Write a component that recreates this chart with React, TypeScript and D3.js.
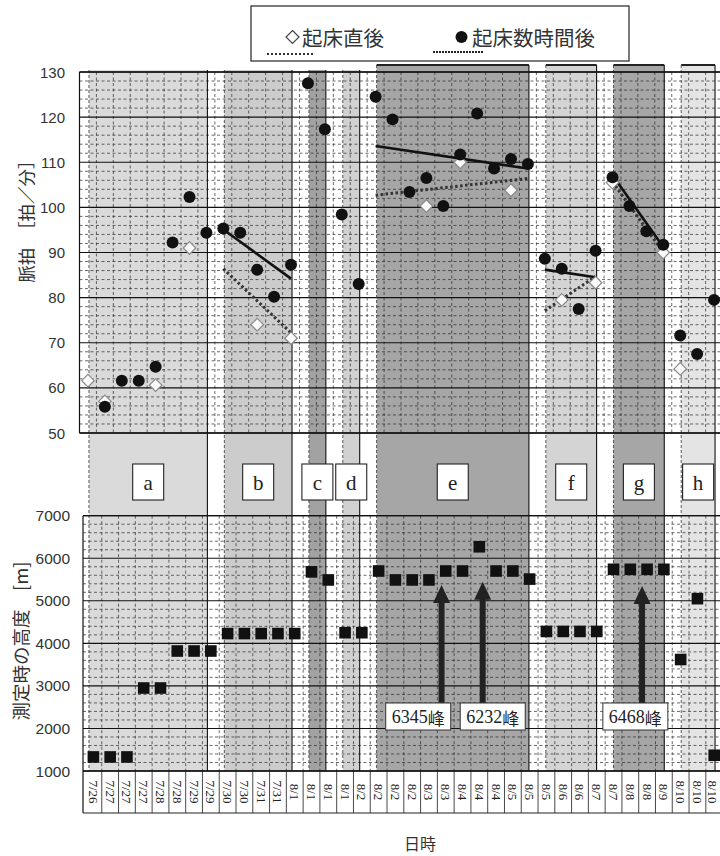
import React from "react";
import * as d3 from "d3";

const dates = ["7/26","7/27","7/27","7/27","7/28","7/28","7/29","7/29","7/30","7/30","7/31","7/31","8/1","8/1","8/1","8/1","8/2","8/2","8/2","8/2","8/3","8/3","8/4","8/4","8/4","8/5","8/5","8/5","8/6","8/6","8/7","8/7","8/8","8/8","8/9","8/10","8/10","8/10"];

// 起床数時間後 (filled circles)
const pulseAfter: (number | null)[] = [null,55.8,61.6,61.6,64.7,92.2,102.3,94.4,95.3,94.4,86.2,80.2,87.3,127.5,117.3,98.4,83,124.5,119.5,103.4,106.5,100.3,111.7,120.8,108.6,110.7,109.6,88.6,86.4,77.5,90.4,106.7,100.3,94.7,91.7,71.6,67.5,79.5];
// 起床直後 (open diamonds)
const pulseWake: (number | null)[] = [61.6,57,null,null,60.6,null,91,null,null,null,74,null,71,null,null,null,null,null,null,null,100.3,null,110,null,null,103.8,null,null,79.5,null,83.3,105.5,null,null,90,64.2,null,null];

// 測定時の高度 [m]
const altitude = [1330,1330,1330,2950,2950,3820,3820,3820,4230,4230,4230,4230,4230,5680,5490,4250,4250,5700,5490,5490,5490,5700,5700,6270,5700,5700,5510,4280,4280,4280,4280,5740,5740,5740,5740,3620,5050,1370];

const regionNames = ["a","b","c","d","e","f","g","h"];
const regionStart = [0,8,13,15,17,27,31,35];
const regionEnd = [7,12,14,16,26,30,34,37];

const trendKind = ["after","wake","after","wake","after","wake","after","wake"];
const trendFrom = [8,8,17,17,27,27,31,31];
const trendTo = [12,12,26,26,30,30,34,34];
const trendFromVal = [95.1,86.4,113.6,102.7,86.2,77.1,107.1,105.6];
const trendToVal = [84.2,72.2,108.6,106.4,84.5,84.7,91.2,90.1];

const pulseTicks = [50,60,70,80,90,100,110,120,130];
const altTicks = [1000,2000,3000,4000,5000,6000,7000];

const peakHeights = ["6345","6232","6468"];
const peakSuffix = "峰";
const peakArrowPos = [20.75,23.2,32.7];
const peakBoxPos = [19.36,23.8,32.3];
const peakTipAlt = [5370,5450,5350];
const peakBaseAlt = [2600,2600,2600];

// styles
const regionFill = ["#dadada","#cccccc","#a2a2a2","#d1d1d1","#a6a6a6","#d4d4d4","#a6a6a6","#e4e4e4"];
const regionTopLine = [false,false,false,false,true,true,true,true];

const SERIF = "'Liberation Serif', 'Times New Roman', serif";
const SANS = "'Liberation Sans', Arial, sans-serif";
const CJK = "'Noto Sans CJK JP', 'Noto Sans', sans-serif";

export default function App() {
  const W = 720, H = 856;
  const idx = d3.range(dates.length);
  const xTop = d3.scaleBand<number>().domain(idx).range([79.5, 722.5]);
  const xBot = d3.scaleBand<number>().domain(idx).range([85, 722.6]);
  const yTop = d3.scaleLinear().domain([50, 130]).range([433, 72]);
  const yBot = d3.scaleLinear().domain([1000, 7000]).range([771, 515.7]);
  const cTop = (i: number) => (xTop(i) as number) + xTop.bandwidth() / 2;
  const cBot = (i: number) => (xBot(i) as number) + xBot.bandwidth() / 2;
  const fBot = (p: number) => xBot.range()[0] + xBot.step() * (p + 0.5);
  const regX = (i: number) => cTop(i) + 1;

  const topL = 79.5, topR = 722.5, botL = 83, botR = 722.6;
  const dash = "3,2.5";
  const gridCol = "#2a2a2a";

  const topMinor = d3.range(52, 130, 2).filter((v) => v % 10 !== 0);
  const botMinor = d3.range(1200, 7000, 200).filter((v) => v % 1000 !== 0);

  const lineGen = d3.line<[number, number]>().x((d) => d[0]).y((d) => d[1]);

  return (
    <div style={{ position: "absolute", left: 0, top: 0 }}>
      <svg width={W} height={H} viewBox={`0 0 ${W} ${H}`} style={{ display: "block", background: "#fff" }}>
        {/* region shading */}
        {regionNames.map((n, r) => {
          const x0 = regX(regionStart[r]);
          const x1 = regX(regionEnd[r]);
          const y0 = regionTopLine[r] ? 65 : 70;
          return (
            <g key={"reg" + n}>
              <rect x={x0} y={y0} width={x1 - x0} height={771 - y0} fill={regionFill[r]} />
              {regionTopLine[r] && <line x1={x0} x2={Math.min(x1, 720)} y1={y0} y2={y0} stroke="#222" strokeWidth={2} />}
            </g>
          );
        })}

        {/* top chart grid */}
        <g>
          {topMinor.map((v) => (
            <line key={"tm" + v} x1={topL} x2={topR} y1={yTop(v)} y2={yTop(v)} stroke={gridCol} strokeWidth={0.7} strokeDasharray={dash} />
          ))}
          {idx.slice(1).map((i) => (
            <line key={"tv" + i} x1={xTop(i)} x2={xTop(i)} y1={72} y2={433} stroke={gridCol} strokeWidth={0.7} strokeDasharray={dash} />
          ))}
          {pulseTicks.map((v) => (
            <line key={"tM" + v} x1={topL} x2={topR} y1={yTop(v)} y2={yTop(v)} stroke="#111" strokeWidth={1.1} />
          ))}
          <line x1={topL} x2={topL} y1={72} y2={433} stroke="#111" strokeWidth={1.2} />
        </g>

        {/* bottom chart grid */}
        <g>
          {botMinor.map((v) => (
            <line key={"bm" + v} x1={botL} x2={botR} y1={yBot(v)} y2={yBot(v)} stroke={gridCol} strokeWidth={0.7} strokeDasharray={dash} />
          ))}
          {idx.slice(1).map((i) => (
            <line key={"bv" + i} x1={xBot(i)} x2={xBot(i)} y1={515.7} y2={771} stroke={gridCol} strokeWidth={0.7} strokeDasharray={dash} />
          ))}
          {altTicks.map((v) => (
            <line key={"bM" + v} x1={botL} x2={botR} y1={yBot(v)} y2={yBot(v)} stroke="#111" strokeWidth={1.1} />
          ))}
          <line x1={botL} x2={botL} y1={515.7} y2={813} stroke="#111" strokeWidth={1.2} />
        </g>

        {/* region edges */}
        {regionNames.map((n, r) => {
          const x0 = regX(regionStart[r]);
          const x1 = regX(regionEnd[r]);
          const y0 = regionTopLine[r] ? 65 : 70;
          return (
            <g key={"edge" + n}>
              <line x1={x0} x2={x0} y1={y0} y2={771} stroke="#333" strokeWidth={0.8} strokeDasharray="3,2" />
              <line x1={x1} x2={x1} y1={y0} y2={771} stroke="#111" strokeWidth={1.1} />
            </g>
          );
        })}

        {/* region label boxes */}
        {regionNames.map((n, r) => {
          const cx = (regX(regionStart[r]) + regX(regionEnd[r])) / 2;
          return (
            <g key={"lab" + n}>
              <rect x={cx - 15.5} y={464} width={31} height={36} fill="#fff" stroke="#222" strokeWidth={1.1} />
              <text x={cx} y={483} textAnchor="middle" dominantBaseline="central" fontFamily={SERIF} fontSize={21} fill="#222">{n}</text>
            </g>
          );
        })}

        {/* label row */}
        <g>
          <line x1={botL} x2={botR} y1={813} y2={813} stroke="#222" strokeWidth={1} />
          {idx.slice(1).map((i) => (
            <line key={"lr" + i} x1={xBot(i)} x2={xBot(i)} y1={771} y2={813} stroke="#333" strokeWidth={0.9} />
          ))}
          {dates.map((d, i) => (
            <text key={"dl" + i} transform={`translate(${Math.min(cBot(i), 712)},792) rotate(90)`} textAnchor="middle" dominantBaseline="central" fontFamily={SERIF} fontSize={13} fill="#222">{d}</text>
          ))}
        </g>

        {/* trend lines */}
        {trendKind.map((k, t) => (
          <path
            key={"tr" + t}
            d={lineGen([[cTop(trendFrom[t]), yTop(trendFromVal[t])], [cTop(trendTo[t]), yTop(trendToVal[t])]]) as string}
            fill="none"
            stroke={k === "after" ? "#111" : "#333"}
            strokeWidth={k === "after" ? 2.6 : 3}
            strokeDasharray={k === "after" ? undefined : "2.5,2.5"}
          />
        ))}

        {/* diamonds */}
        {pulseWake.map((v, i) =>
          v == null ? null : (
            <path key={"dm" + i} d={`M${cTop(i)},${yTop(v) - 6.3}L${cTop(i) + 6.3},${yTop(v)}L${cTop(i)},${yTop(v) + 6.3}L${cTop(i) - 6.3},${yTop(v)}Z`} fill="#fafafa" stroke="#8a8a8a" strokeWidth={1.2} />
          )
        )}
        {/* circles */}
        {pulseAfter.map((v, i) =>
          v == null ? null : <circle key={"ci" + i} cx={cTop(i)} cy={yTop(v)} r={6} fill="#111" />
        )}

        {/* squares */}
        {altitude.map((v, i) => (
          <rect key={"sq" + i} x={cBot(i) - 5.8} y={yBot(v) - 5.8} width={11.6} height={11.6} fill="#111" />
        ))}

        {/* peak annotations */}
        {peakHeights.map((n, p) => {
          const ax = fBot(peakArrowPos[p]);
          const tip = yBot(peakTipAlt[p]);
          const base = yBot(peakBaseAlt[p]);
          const bx = fBot(peakBoxPos[p]);
          return (
            <g key={"pk" + p}>
              <rect x={ax - 3} y={tip + 16} width={6} height={base - tip - 16} fill="#222" />
              <path d={`M${ax},${tip}L${ax + 8.5},${tip + 18}L${ax - 8.5},${tip + 18}Z`} fill="#222" />
              <rect x={bx - 32.5} y={703} width={65} height={27} fill="#fff" stroke="#333" strokeWidth={1} />
              <text x={bx} y={717} textAnchor="middle" dominantBaseline="central" fontSize={18} fill="#222">
                <tspan fontFamily={SERIF}>{n}</tspan>
                <tspan fontFamily={CJK} fontSize={17}>{peakSuffix}</tspan>
              </text>
            </g>
          );
        })}

        {/* borders */}
        <line x1={topL} x2={topR} y1={72} y2={72} stroke="#111" strokeWidth={1.3} />
        <line x1={topL} x2={topR} y1={433} y2={433} stroke="#111" strokeWidth={1.3} />
        <line x1={botL} x2={botR} y1={515.7} y2={515.7} stroke="#111" strokeWidth={1.3} />
        <line x1={botL} x2={botR} y1={771} y2={771} stroke="#111" strokeWidth={1.3} />

        {/* y tick labels */}
        {pulseTicks.map((v) => (
          <text key={"tl" + v} x={65} y={yTop(v)} textAnchor="end" dominantBaseline="central" fontFamily={SANS} fontSize={15} fill="#333">{v}</text>
        ))}
        {altTicks.map((v) => (
          <text key={"bl" + v} x={70} y={yBot(v)} textAnchor="end" dominantBaseline="central" fontFamily={SANS} fontSize={15.5} fill="#333">{v}</text>
        ))}

        {/* axis titles */}
        <text transform="translate(25,217) rotate(-90)" textAnchor="middle" dominantBaseline="central" fontFamily={CJK} fontSize={17.5} fill="#333">脈拍　［拍／分］</text>
        <text transform="translate(20,641) rotate(-90)" textAnchor="middle" dominantBaseline="central" fontFamily={CJK} fontSize={18.5} fill="#333">測定時の高度　[m]</text>
        <text x={420} y={843} textAnchor="middle" dominantBaseline="central" fontFamily={CJK} fontSize={16} fill="#333">日時</text>

        {/* legend */}
        <g>
          <rect x={251} y={6} width={378} height={55} fill="#fff" stroke="#222" strokeWidth={1.2} />
          <path d="M292.5,30.5L299,37L292.5,43.5L286,37Z" fill="#fff" stroke="#444" strokeWidth={1.2} />
          <text x={302} y={37} dominantBaseline="central" fontFamily={CJK} fontSize={20.5} fill="#333">起床直後</text>
          <line x1={267} x2={315} y1={54} y2={54} stroke="#333" strokeWidth={2} strokeDasharray="2,2" />
          <circle cx={461.5} cy={37} r={6} fill="#111" />
          <text x={472} y={37} dominantBaseline="central" fontFamily={CJK} fontSize={20.5} fill="#333">起床数時間後</text>
          <line x1={433} x2={483} y1={52} y2={52} stroke="#222" strokeWidth={2.2} strokeDasharray="2,1" />
        </g>
      </svg>
    </div>
  );
}
